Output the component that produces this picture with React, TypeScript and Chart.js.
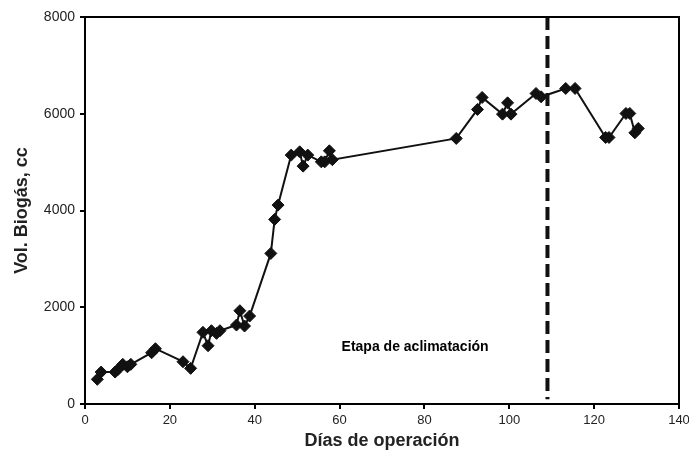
import React, { useEffect, useRef } from "react";
import { Chart, registerables } from "chart.js";

Chart.register(...registerables);

const days = [2.9, 3.8, 7.1, 7.8, 8.9, 10, 10.8, 15.7, 16.6, 23.1, 24.9, 27.8, 29, 29.8, 31, 31.8, 35.7, 36.5, 37.6, 38.8, 43.8, 44.7, 45.5, 48.6, 50.6, 51.4, 52.5, 55.7, 56.5, 57.6, 58.3, 87.5, 92.5, 93.6, 98.4, 99.6, 100.4, 106.3, 107.5, 113.3, 115.5, 122.7, 123.5, 127.5, 128.4, 129.6, 130.4];
const volumes = [510, 660, 660, 717, 820, 770, 820, 1060, 1143, 874, 737, 1481, 1205, 1515, 1460, 1515, 1632, 1928, 1612, 1818, 3113, 3816, 4112, 5145, 5213, 4917, 5145, 5006, 5006, 5234, 5050, 5490, 6089, 6337, 5992, 6225, 5992, 6419, 6350, 6523, 6523, 5510, 5510, 6006, 6006, 5606, 5696];
const stageDay = 109;
const stageRange = [8000, 100];
const stageLabel = "Etapa de aclimatación";
const stageLabelPos = { x: 77.8, y: 1170 };
const xTitle = "Días de operación";
const yTitle = "Vol. Biogás, cc";

const FONT = "'Liberation Sans', Arial, sans-serif";

export default function App() {
  const ref = useRef<HTMLCanvasElement | null>(null);
  useEffect(() => {
    document.body.style.margin = "0";
    const canvas = ref.current!;
    const framePlugin = {
      id: "frame",
      afterDatasetsDraw(chart: any) {
        const { ctx, chartArea: a, scales } = chart;
        ctx.save();
        ctx.strokeStyle = "#000";
        ctx.lineWidth = 2;
        ctx.strokeRect(a.left, a.top, a.right - a.left, a.bottom - a.top);
        ctx.fillStyle = "#000";
        ctx.font = `bold 14px ${FONT}`;
        ctx.textAlign = "center";
        ctx.textBaseline = "middle";
        ctx.fillText(stageLabel, scales.x.getPixelForValue(stageLabelPos.x), scales.y.getPixelForValue(stageLabelPos.y));
        ctx.restore();
      },
    };
    const chart = new Chart(canvas, {
      type: "scatter",
      data: {
        datasets: [
          {
            data: days.map((d, i) => ({ x: d, y: volumes[i] })),
            showLine: true,
            borderColor: "#111",
            backgroundColor: "#111",
            borderWidth: 2,
            pointStyle: "rectRot",
            pointRadius: 6,
            pointBorderWidth: 1,
          },
          {
            data: stageRange.map((v) => ({ x: stageDay, y: v })),
            showLine: true,
            borderColor: "#111",
            borderWidth: 4,
            borderDash: [13, 6],
            pointRadius: 0,
          },
        ],
      },
      options: {
        animation: false,
        responsive: false,
        layout: { padding: { top: 17, right: 10, left: 0, bottom: 0 } },
        plugins: { legend: { display: false }, tooltip: { enabled: false } },
        scales: {
          x: {
            type: "linear",
            min: 0,
            max: 140,
            afterFit: (s: any) => { s.height = 55; s.paddingRight = 0; s.paddingLeft = 0; },
            ticks: { stepSize: 20, color: "#222", font: { family: FONT, size: 13 }, padding: 4, callback: (v: any) => String(v) },
            grid: { drawOnChartArea: false, drawTicks: true, tickLength: 5, color: "#000", lineWidth: 2 },
            border: { display: true, color: "#000", width: 2 },
            title: { display: true, text: xTitle, color: "#222", font: { family: FONT, size: 18, weight: "bold" }, padding: { top: 0, bottom: 7 } },
          },
          y: {
            min: 0,
            max: 8000,
            afterFit: (s: any) => { s.width = 85; s.paddingTop = 0; s.paddingBottom = 0; },
            ticks: { stepSize: 2000, color: "#222", font: { family: FONT, size: 14 }, padding: 5, callback: (v: any) => String(v) },
            grid: { drawOnChartArea: false, drawTicks: true, tickLength: 5, color: "#000", lineWidth: 2 },
            border: { display: true, color: "#000", width: 2 },
            title: { display: true, text: yTitle, color: "#222", font: { family: FONT, size: 18, weight: "bold" }, padding: { top: 11, bottom: 0 } },
          },
        },
      },
      plugins: [framePlugin],
    });
    return () => chart.destroy();
  }, []);
  return <canvas ref={ref} width={689} height={459} style={{ display: "block" }} />;
}
